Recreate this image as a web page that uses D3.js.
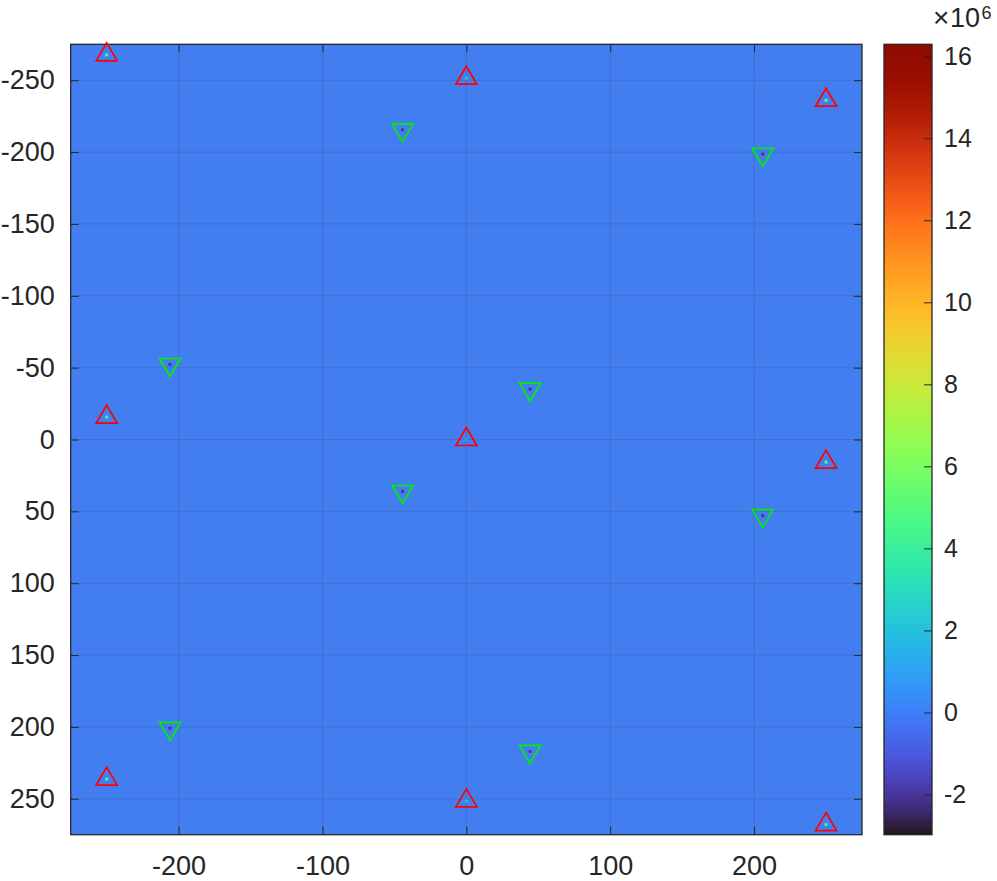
<!DOCTYPE html>
<html>
<head>
<meta charset="utf-8">
<script src="https://cdn.jsdelivr.net/npm/d3@7"></script>
<style>
  html, body { margin: 0; padding: 0; background: #ffffff; }
  svg { display: block; }
  text { font-family: "Liberation Sans", Arial, Helvetica, sans-serif; fill: #262626; }
</style>
</head>
<body>
<svg id="chart" width="997" height="881"></svg>
<script>
// ---------------- data ----------------
const xDomain = [-275, 275];
const yDomain = [-275, 275];
const xTicks = [-200, -100, 0, 100, 200];
const yTicks = [-250, -200, -150, -100, -50, 0, 50, 100, 150, 200, 250];
const cbDomain = [-2.98e6, 16.29e6];
const cbTicks = [-2, 0, 2, 4, 6, 8, 10, 12, 14, 16];
const cbExponent = "6";
const backgroundValue = 0.0e6;

// red ^ markers (peaks)
const redX = [-250, -250, -250, 0, 0, 0, 250, 250, 250];
const redY = [-267.6, -15.6, 236.3, -251.4, 0, 251.5, -236.1, 15.7, 268];
const redPeakValue = [4.5e6, 4.5e6, 4.5e6, 2.5e6, 1.5e6, 2.5e6, 5e6, 5e6, 4.5e6];

// green v markers (dips)
const greenX = [-206, -206, -44.3, -44.3, 44.3, 44.3, 206, 206];
const greenY = [-52.2, 201, -215.5, 36.2, -35, 217, -198.5, 53];
const greenDipValue = [-2e6, -2e6, -2e6, -2e6, -2e6, -2e6, -2e6, -2e6];

// ---------------- layout ----------------
const svg = d3.select("#chart");
const plot = { left: 70.7, right: 862, top: 44.3, bottom: 834.7 };
const cb = { left: 884, right: 932, top: 44.3, bottom: 834.7 };
const axisColor = "#262626";
const tickLen = 8;
const fmt = d => String(d);

const x = d3.scaleLinear().domain(xDomain).range([plot.left, plot.right]);
const y = d3.scaleLinear().domain(yDomain).range([plot.top, plot.bottom]);
const cScale = d3.scaleSequential(d3.interpolateTurbo).domain(cbDomain);

// image background
svg.append("rect")
  .attr("x", x(xDomain[0])).attr("y", y(yDomain[0]))
  .attr("width", x(xDomain[1]) - x(xDomain[0]))
  .attr("height", y(yDomain[1]) - y(yDomain[0]))
  .attr("fill", cScale(backgroundValue));
// slight muting like the noisy reference image
svg.append("rect")
  .attr("x", x(xDomain[0])).attr("y", y(yDomain[0]))
  .attr("width", x(xDomain[1]) - x(xDomain[0]))
  .attr("height", y(yDomain[1]) - y(yDomain[0]))
  .attr("fill", "#8a7f9a").attr("fill-opacity", 0.08);

// peak pixels
const peaks = redX.map((d, i) => ({ x: d, y: redY[i], v: redPeakValue[i] }));
const dips = greenX.map((d, i) => ({ x: d, y: greenY[i], v: greenDipValue[i] }));
svg.append("g").selectAll("rect").data(peaks.concat(dips)).join("rect")
  .attr("x", d => x(d.x) - 1.5).attr("y", d => y(d.y) - 1.5)
  .attr("width", 3).attr("height", 3)
  .attr("fill", d => cScale(d.v));

// grid
const grid = svg.append("g").attr("stroke", axisColor).attr("stroke-opacity", 0.15).attr("stroke-width", 1);
grid.selectAll("line.gx").data(xTicks).join("line")
  .attr("x1", d => x(d)).attr("x2", d => x(d))
  .attr("y1", plot.top).attr("y2", plot.bottom);
grid.selectAll("line.gy").data(yTicks).join("line")
  .attr("y1", d => y(d)).attr("y2", d => y(d))
  .attr("x1", plot.left).attr("x2", plot.right);

// axes via d3 axis (ticks inside)
const fontSize = 27;
const axB = svg.append("g").attr("transform", `translate(0,${plot.bottom})`)
  .call(d3.axisBottom(x).tickValues(xTicks).tickSizeInner(-tickLen).tickSizeOuter(0).tickPadding(25).tickFormat(fmt));
const axT = svg.append("g").attr("transform", `translate(0,${plot.top})`)
  .call(d3.axisTop(x).tickValues(xTicks).tickSizeInner(-tickLen).tickSizeOuter(0).tickFormat(""));
const axL = svg.append("g").attr("transform", `translate(${plot.left},0)`)
  .call(d3.axisLeft(y).tickValues(yTicks).tickSizeInner(-tickLen).tickSizeOuter(0).tickPadding(16).tickFormat(fmt));
const axR = svg.append("g").attr("transform", `translate(${plot.right},0)`)
  .call(d3.axisRight(y).tickValues(yTicks).tickSizeInner(-tickLen).tickSizeOuter(0).tickFormat(""));
[axB, axT, axL, axR].forEach(g => {
  g.select(".domain").remove();
  g.selectAll(".tick line").attr("stroke", axisColor).attr("stroke-width", 1);
  g.selectAll("text").attr("font-size", fontSize).attr("fill", axisColor)
    .attr("font-family", '"Liberation Sans", Arial, sans-serif');
});
axB.selectAll("text").attr("dy", "0.71em").attr("y", 21);
// box
svg.append("rect")
  .attr("x", plot.left).attr("y", plot.top)
  .attr("width", plot.right - plot.left).attr("height", plot.bottom - plot.top)
  .attr("fill", "none").attr("stroke", axisColor).attr("stroke-width", 1.3);

// markers
const mk = svg.append("g");
mk.selectAll("path.up").data(peaks).join("path")
  .attr("d", d => {
    const cx = x(d.x), cy = y(d.y);
    return `M${cx},${cy - 12}L${cx + 10.5},${cy + 6}L${cx - 10.5},${cy + 6}Z`;
  })
  .attr("fill", "none").attr("stroke", "#ff0000").attr("stroke-width", 1.7);
mk.selectAll("path.down").data(dips).join("path")
  .attr("d", d => {
    const cx = x(d.x), cy = y(d.y);
    return `M${cx - 10.5},${cy - 6}L${cx + 10.5},${cy - 6}L${cx},${cy + 12}Z`;
  })
  .attr("fill", "none").attr("stroke", "#00ee00").attr("stroke-width", 1.7);

// ---------------- colorbar ----------------
const defs = svg.append("defs");
const grad = defs.append("linearGradient").attr("id", "cbgrad")
  .attr("x1", 0).attr("x2", 0).attr("y1", 1).attr("y2", 0);
d3.range(0, 1.0001, 0.02).forEach(t => {
  grad.append("stop").attr("offset", t).attr("stop-color", d3.interpolateTurbo(t));
});
svg.append("rect")
  .attr("x", cb.left).attr("y", cb.top)
  .attr("width", cb.right - cb.left).attr("height", cb.bottom - cb.top)
  .attr("fill", "url(#cbgrad)");
const cy = d3.scaleLinear().domain([cbDomain[0] / 1e6, cbDomain[1] / 1e6]).range([cb.bottom, cb.top]);
const axC = svg.append("g").attr("transform", `translate(${cb.right},0)`)
  .call(d3.axisRight(cy).tickValues(cbTicks).tickSizeInner(-tickLen).tickSizeOuter(0).tickPadding(12).tickFormat(fmt));
axC.select(".domain").remove();
axC.selectAll(".tick line").attr("stroke", axisColor);
axC.selectAll("text").attr("font-size", 25).attr("fill", axisColor)
  .attr("font-family", '"Liberation Sans", Arial, sans-serif');
svg.append("rect")
  .attr("x", cb.left).attr("y", cb.top)
  .attr("width", cb.right - cb.left).attr("height", cb.bottom - cb.top)
  .attr("fill", "none").attr("stroke", axisColor).attr("stroke-width", 1.3);

// exponent label
svg.append("text").attr("x", 933).attr("y", 27).attr("font-size", 28).text("\u00d7");
svg.append("text").attr("x", 950).attr("y", 27).attr("font-size", 27).text("10");
svg.append("text").attr("x", 981.5).attr("y", 19).attr("font-size", 18).text(cbExponent);
</script>
</body>
</html>
